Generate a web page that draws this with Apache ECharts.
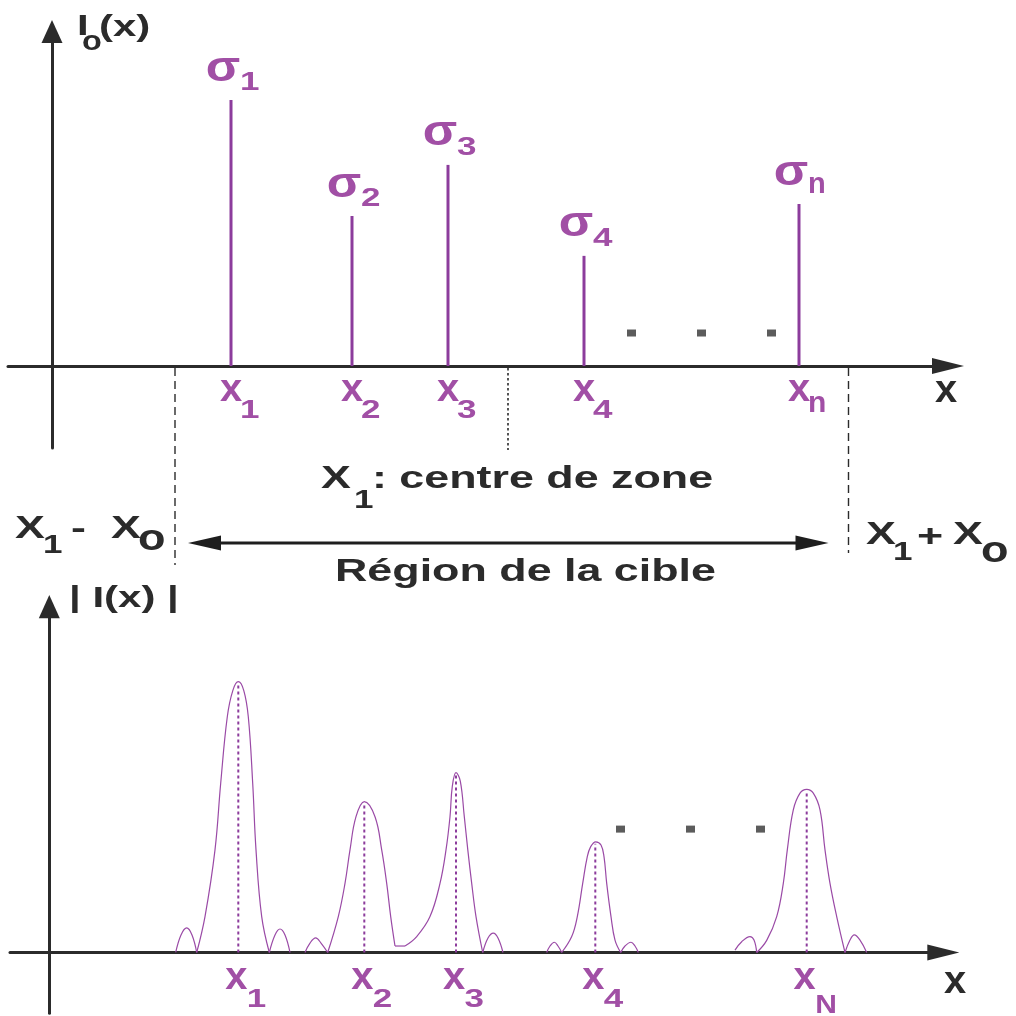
<!DOCTYPE html>
<html>
<head>
<meta charset="utf-8">
<script src="https://cdn.jsdelivr.net/npm/echarts@6/dist/echarts.min.js"></script>
<style>
    html, body { margin: 0; padding: 0; background: #fff; }
    #chart { width: 1016px; height: 1016px; }
</style>
</head>
<body>
<div id="chart"></div>
<script>
// haut : impulsions idéales sigma_i aux positions x_i
const stemX = [17.9, 30.0, 39.6, 53.2, 74.7];
const stemH = [100, 56.4, 75.6, 41.4, 60.9];
const stemSubs = ['1', '2', '3', '4', 'n'];

// bornes de zone : X1 - Xo, X1, X1 + Xo
const zoneX = [12.3, 45.6, 79.65];

// points de suspension
const dotsTopX = [57.95, 64.95, 71.95];
const dotsTopY = 12.4;
const dotsBottomX = [57.12, 64.12, 71.12];
const dotsBottomY = 45.7;

// bas : |I(x)| mesuré
const peakX = [18.9, 31.5, 40.67, 54.6, 75.74];
const peakH = [100.3, 55.9, 66.6, 41.0, 60.4];
const peakSubs = ['1', '2', '3', '4', 'N'];

const peak1Curve = [
    [[12.64, 0], [13.17, 6.5], [13.74, 9.1], [14.27, 6.5], [14.74, 0]],
    [[14.74, 0], [15.57, 13.3], [16.57, 38.0], [17.14, 62.7], [17.8, 87.3], [18.35, 97.0], [18.9, 100.3],
     [19.45, 97.0], [19.9, 87.3], [20.34, 62.7], [20.67, 38.0], [21.24, 13.3], [22.0, 0]],
    [[22.0, 0], [22.57, 6.5], [23.07, 8.7], [23.57, 6.5], [24.07, 0]]
];
const peak2Curve = [
    [[25.57, 0], [26.07, 3.5], [26.64, 5.4], [27.17, 3.5], [27.84, 0]],
    [[27.84, 0], [28.9, 13.3], [29.57, 25.6], [30.07, 38.0], [30.67, 50.3], [31.5, 55.9], [32.57, 50.3],
     [33.24, 38.0], [33.74, 25.6], [34.14, 13.3], [34.57, 2.4]],
    [[34.57, 2.4], [35.57, 2.4]]
];
const peak3Curve = [
    [[35.57, 2.4], [36.74, 5.9], [38.07, 13.3], [39.07, 25.6], [39.67, 38.0], [40.07, 50.3], [40.3, 61.5],
     [40.67, 66.6], [41.1, 63.5], [41.5, 50.3], [41.85, 38.0], [42.24, 25.6], [42.67, 13.3], [43.34, 0]],
    [[43.34, 0], [43.87, 5.4], [44.4, 7.2], [44.87, 5.4], [45.37, 0]]
];
const peak4Curve = [
    [[49.74, 0], [50.07, 2.4], [50.5, 3.8], [50.87, 2.4], [51.24, 0]],
    [[51.24, 0], [52.24, 5.9], [52.8, 13.3], [53.34, 25.6], [53.8, 35.5], [54.14, 39.2], [54.64, 41.0],
     [55.17, 39.8], [55.47, 35.5], [55.74, 25.6], [56.17, 13.3], [56.57, 4.6], [57.14, 0]],
    [[57.14, 0], [57.57, 2.4], [58.17, 3.8], [58.57, 2.4], [58.9, 0]]
];
const peakNCurve = [
    [[68.57, 0.9], [69.24, 4.0], [70.07, 5.9], [70.47, 4.6], [70.74, 0]],
    [[70.74, 0], [71.74, 4.5], [72.74, 13.3], [73.4, 25.6], [73.8, 38.0], [74.4, 52.8], [75.07, 59.0],
     [75.74, 60.4], [76.4, 59.0], [77.07, 52.8], [77.57, 38.0], [78.07, 25.6], [78.74, 13.3], [79.57, 0]],
    [[79.57, 0], [80.07, 4.6], [80.5, 6.5], [81.07, 4.6], [81.74, 0]]
];

const colorDark = '#2b2b2b';
const colorStem = '#8c3c9c';
const colorLabel = '#a14fa5';
const colorCurve = '#9a4aa6';
const fontFamily = '"Liberation Sans", Arial, sans-serif';

/**
 * Texte gras, étiré horizontalement comme dans la figure
 */
function txt(text, x, y, size, sx, color, align) {
    const a = align || 'left';
    return {
        type: 'text',
        x: x,
        y: y,
        scaleX: sx,
        silent: true,
        style: {
            text: text,
            font: `bold ${size}px ${fontFamily}`,
            fill: color,
            textAlign: a,
            textVerticalAlign: 'middle',
            align: a,
            verticalAlign: 'middle'
        }
    };
}

function axisLine(arrowSize) {
    return {
        onZero: true,
        symbol: ['none', 'triangle'],
        symbolSize: arrowSize,
        lineStyle: { color: colorDark, width: 3 }
    };
}

const hidden = {
    axisTick: { show: false },
    axisLabel: { show: false },
    splitLine: { show: false }
};

const chart = echarts.init(document.getElementById('chart'));

const arches = [].concat(peak1Curve, peak2Curve, peak3Curve, peak4Curve, peakNCurve);

chart.setOption({
    animation: false,
    backgroundColor: '#fff',
    grid: [
        { left: 8, top: 31.5, width: 940, height: 416.5, containLabel: false, outerBoundsMode: 'none' },
        { left: 10, top: 606.6, width: 933.3, height: 406.7, containLabel: false, outerBoundsMode: 'none' }
    ],
    xAxis: [
        Object.assign({ type: 'value', gridIndex: 0, min: -4.4, max: 89.6, axisLine: axisLine([16, 32]) }, hidden),
        Object.assign({ type: 'value', gridIndex: 1, min: -3.93, max: 89.4, axisLine: axisLine([16, 32]) }, hidden)
    ],
    yAxis: [
        Object.assign({ type: 'value', gridIndex: 0, min: -30.83, max: 125.75, axisLine: axisLine([21, 23]) }, hidden),
        Object.assign({ type: 'value', gridIndex: 1, min: -22.52, max: 128.11, axisLine: axisLine([21, 23.2]) }, hidden)
    ],
    graphic: [
        // axe vertical haut : Io(x)
        txt('I', 77, 27, 30, 1.4, colorDark),
        txt('o', 82, 43, 27, 1.2, colorDark),
        txt('(x)', 99, 28, 30, 1.4, colorDark),
        txt('x', 946, 392, 38, 1.05, colorDark, 'center'),
        // zone
        txt('X', 321, 479, 32, 1.4, colorDark),
        txt('1', 354, 501, 25, 1.4, colorDark),
        txt(': centre de zone', 372, 479, 32, 1.4, colorDark),
        txt('Région de la cible', 335, 572, 32, 1.4, colorDark),
        txt('X', 15, 529, 32, 1.4, colorDark),
        txt('1', 43, 546, 25, 1.4, colorDark),
        txt('-', 71, 529, 32, 1.4, colorDark),
        txt('X', 111, 529, 32, 1.4, colorDark),
        txt('o', 138, 540, 36, 1.25, colorDark),
        txt('X', 866, 535, 32, 1.4, colorDark),
        txt('1', 893, 553, 25, 1.4, colorDark),
        txt('+', 917, 537, 32, 1.4, colorDark),
        txt('X', 953, 535, 32, 1.4, colorDark),
        txt('o', 981, 552, 36, 1.25, colorDark),
        // axe vertical bas
        txt('| I(x) |', 69, 599, 30, 1.4, colorDark),
        txt('x', 955, 983, 38, 1.05, colorDark, 'center')
    ],
    series: [
        {
            type: 'custom',
            xAxisIndex: 0,
            yAxisIndex: 0,
            clip: false,
            data: stemX.map((x, i) => [x, stemH[i]]),
            renderItem: (params, api) => {
                const i = params.dataIndex;
                const base = api.coord([api.value(0), 0]);
                const top = api.coord([api.value(0), api.value(1)]);
                const sub = stemSubs[i];
                const isN = sub === 'n';
                return {
                    type: 'group',
                    children: [
                        { type: 'line', shape: { x1: base[0], y1: base[1], x2: top[0], y2: top[1] },
                          style: { stroke: colorStem, lineWidth: 3 } },
                        txt('σ', top[0] - 8, top[1] - 31, 42, 1.2, colorLabel, 'center'),
                        txt(sub, top[0] + 9, top[1] - (isN ? 19 : 17), isN ? 29 : 25, isN ? 1.0 : 1.4, colorLabel),
                        txt('x', base[0], base[1] + 25, 38, 1.05, colorLabel, 'center'),
                        txt(sub, base[0] + 9, base[1] + (isN ? 38 : 45), isN ? 30 : 25, isN ? 1.0 : 1.4, colorLabel)
                    ]
                };
            }
        },
        {
            type: 'custom',
            xAxisIndex: 0,
            yAxisIndex: 0,
            clip: false,
            data: zoneX.map(x => [x]),
            renderItem: (params, api) => {
                const i = params.dataIndex;
                const p = api.coord([api.value(0), 0]);
                const depth = [199, 84, 187][i];
                return {
                    type: 'line',
                    shape: { x1: p[0], y1: p[1] + 2, x2: p[0], y2: p[1] + depth },
                    style: { stroke: colorDark, lineWidth: i === 1 ? 1.6 : 1.4, lineDash: i === 1 ? [2.5, 2.5] : [8, 5] }
                };
            }
        },
        {
            // flèche double : région de la cible
            type: 'custom',
            xAxisIndex: 0,
            yAxisIndex: 0,
            clip: false,
            data: [[zoneX[0], zoneX[2]]],
            renderItem: (params, api) => {
                const a = api.coord([api.value(0), 0]);
                const b = api.coord([api.value(1), 0]);
                const y = a[1] + 177;
                const x1 = a[0] + 13;
                const x2 = b[0] - 20;
                return {
                    type: 'group',
                    children: [
                        { type: 'line', shape: { x1: x1 + 20, y1: y, x2: x2 - 20, y2: y },
                          style: { stroke: '#1e1e1e', lineWidth: 3 } },
                        { type: 'polygon', shape: { points: [[x1, y], [x1 + 33, y - 7.5], [x1 + 33, y + 7.5]] },
                          style: { fill: '#1e1e1e' } },
                        { type: 'polygon', shape: { points: [[x2, y], [x2 - 33, y - 7.5], [x2 - 33, y + 7.5]] },
                          style: { fill: '#1e1e1e' } }
                    ]
                };
            }
        },
        {
            type: 'scatter',
            xAxisIndex: 0,
            yAxisIndex: 0,
            symbol: 'rect',
            symbolSize: [9, 7],
            itemStyle: { color: '#333' },
            data: dotsTopX.map(x => [x, dotsTopY])
        },
        {
            type: 'scatter',
            xAxisIndex: 1,
            yAxisIndex: 1,
            symbol: 'rect',
            symbolSize: [9, 7],
            itemStyle: { color: '#333' },
            data: dotsBottomX.map(x => [x, dotsBottomY])
        },
        {
            type: 'custom',
            xAxisIndex: 1,
            yAxisIndex: 1,
            clip: false,
            data: peakX.map((x, i) => [x, peakH[i]]),
            renderItem: (params, api) => {
                const i = params.dataIndex;
                const base = api.coord([api.value(0), 0]);
                const top = api.coord([api.value(0), api.value(1)]);
                const sub = peakSubs[i];
                const isN = sub === 'N';
                return {
                    type: 'group',
                    children: [
                        { type: 'line', shape: { x1: base[0], y1: base[1], x2: top[0], y2: top[1] + 2 },
                          style: { stroke: colorStem, lineWidth: 2, lineDash: [3, 3] } },
                        txt('x', base[0] - 2, base[1] + 26.5, 38, 1.05, colorLabel, 'center'),
                        txt(sub, base[0] + 8.5, base[1] + (isN ? 53.5 : 47.5), 25, isN ? 1.2 : 1.4, colorLabel)
                    ]
                };
            }
        }
    ].concat(arches.map(pts => ({
        type: 'line',
        xAxisIndex: 1,
        yAxisIndex: 1,
        data: pts,
        smooth: 0.4,
        symbol: 'none',
        silent: true,
        lineStyle: { color: colorCurve, width: 1.2 }
    })))
});
</script>
</body>
</html>
